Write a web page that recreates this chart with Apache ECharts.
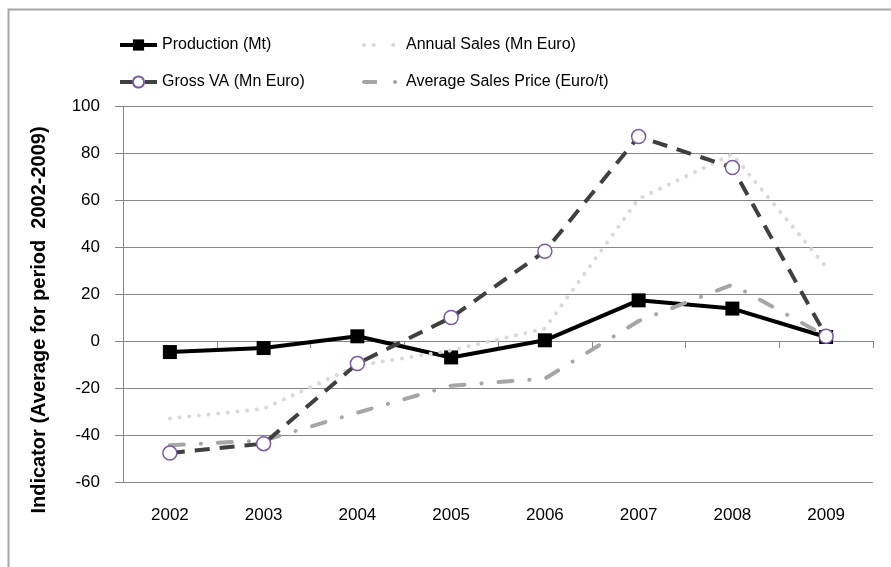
<!DOCTYPE html>
<html>
<head>
<meta http-equiv="Content-Type" content="text/html; charset=utf-8" />
<title>indicators 2002-2009</title>
<script type="text/javascript" src="https://cdn.jsdelivr.net/npm/echarts@6/dist/echarts.min.js"></script>
<style>
  html, body { margin: 0; padding: 0; background: #fff; }
</style>
</head>
<body>
<div id="chart" style="width:891px;height:567px;"></div>
<script type="text/javascript">
var years = ['2002', '2003', '2004', '2005', '2006', '2007', '2008', '2009'];
var production = [-4.7, -3, 2, -7, 0.3, 17.3, 13.8, 1.7];
var annualSales = [-33, -28.8, -10.5, -4, 5.3, 60.5, 79.5, 31.5];
var grossVA = [-47.7, -43.7, -9.6, 10, 38.2, 87, 73.8, 2];
var avgPrice = [-44.4, -42.3, -30.5, -19, -16, 8.5, 24, 2];

var yTicks = { min: -60, max: 100, step: 20 };

var txtFont = '"Liberation Sans", sans-serif';

var myChart = echarts.init(document.getElementById('chart'));

// no marker in the legend for the two plain lines
var noMark = { color: 'transparent', borderWidth: 0 };

var option = {
    animation: false,
    backgroundColor: '#fff',
    graphic: [{
        type: 'rect',
        left: 6, top: 7,
        shape: { width: 900, height: 600 },
        style: { fill: 'none', stroke: '#a6a6a6', lineWidth: 2 }
    }],
    legend: [{
        // left column
        orient: 'vertical',
        left: 113, top: 32,
        itemWidth: 37, itemHeight: 14, itemGap: 21,
        lineStyle: { width: 4 },
        textStyle: { fontFamily: txtFont, fontSize: 16, color: '#000' },
        data: ['Production (Mt)', 'Gross VA (Mn Euro)']
    }, {
        // right column
        orient: 'vertical',
        left: 357, top: 32,
        itemWidth: 37, itemHeight: 14, itemGap: 21,
        lineStyle: { width: 4 },
        textStyle: { fontFamily: txtFont, fontSize: 16, color: '#000' },
        data: [
            { name: 'Annual Sales (Mn Euro)', itemStyle: noMark },
            { name: 'Average Sales Price (Euro/t)', itemStyle: noMark }
        ]
    }],
    grid: { left: 123, right: 18, top: 106, bottom: 85 },
    xAxis: [{
        // labels along the bottom
        type: 'category',
        data: years,
        position: 'bottom',
        axisLine: { show: false, onZero: false },
        axisTick: { show: false },
        axisLabel: { margin: 25, fontFamily: txtFont, fontSize: 17, color: '#000' }
    }, {
        // axis line crossing at zero
        type: 'category',
        data: years,
        position: 'bottom',
        axisLine: { show: true, onZero: true, lineStyle: { color: '#868686', width: 1 } },
        axisTick: { show: true, length: 7, lineStyle: { color: '#868686' } },
        axisLabel: { show: false }
    }],
    yAxis: {
        type: 'value',
        min: yTicks.min, max: yTicks.max, interval: yTicks.step,
        name: 'Indicator (Average for period  2002-2009)',
        nameLocation: 'middle',
        nameGap: 74,
        nameTextStyle: {
            fontFamily: txtFont, fontWeight: 'bold',
            fontSize: 20, color: '#000', padding: [0, 52, 0, 0]
        },
        axisLine: { show: true, lineStyle: { color: '#868686', width: 1 } },
        axisTick: { show: true, length: 8, lineStyle: { color: '#868686' } },
        axisLabel: { margin: 23, fontFamily: txtFont, fontSize: 17, color: '#000' },
        splitLine: { show: true, lineStyle: { color: '#868686', width: 1 } }
    },
    series: [{
        name: 'Production (Mt)',
        type: 'line',
        data: production,
        symbol: 'rect', symbolSize: 14,
        itemStyle: { color: '#000', borderColor: '#000', borderWidth: 0 },
        lineStyle: { color: '#000', width: 4 },
        z: 2
    }, {
        name: 'Annual Sales (Mn Euro)',
        type: 'line',
        data: annualSales,
        showSymbol: false,
        itemStyle: { color: '#d9d9d9' },
        lineStyle: { color: '#d9d9d9', width: 4, type: [0.1, 9.6], cap: 'round' },
        z: 3
    }, {
        name: 'Average Sales Price (Euro/t)',
        type: 'line',
        data: avgPrice,
        showSymbol: false,
        itemStyle: { color: '#a6a6a6' },
        lineStyle: { color: '#a6a6a6', width: 4, type: [14, 17, 0.1, 17], cap: 'round' },
        z: 4
    }, {
        name: 'Gross VA (Mn Euro)',
        type: 'line',
        data: grossVA,
        symbol: 'circle', symbolSize: 14,
        itemStyle: { color: '#fff', borderColor: '#7a5ba8', borderWidth: 1.5 },
        lineStyle: { color: '#404040', width: 4, type: [15, 10] },
        z: 5
    }]
};

myChart.setOption(option);
</script>
</body>
</html>
